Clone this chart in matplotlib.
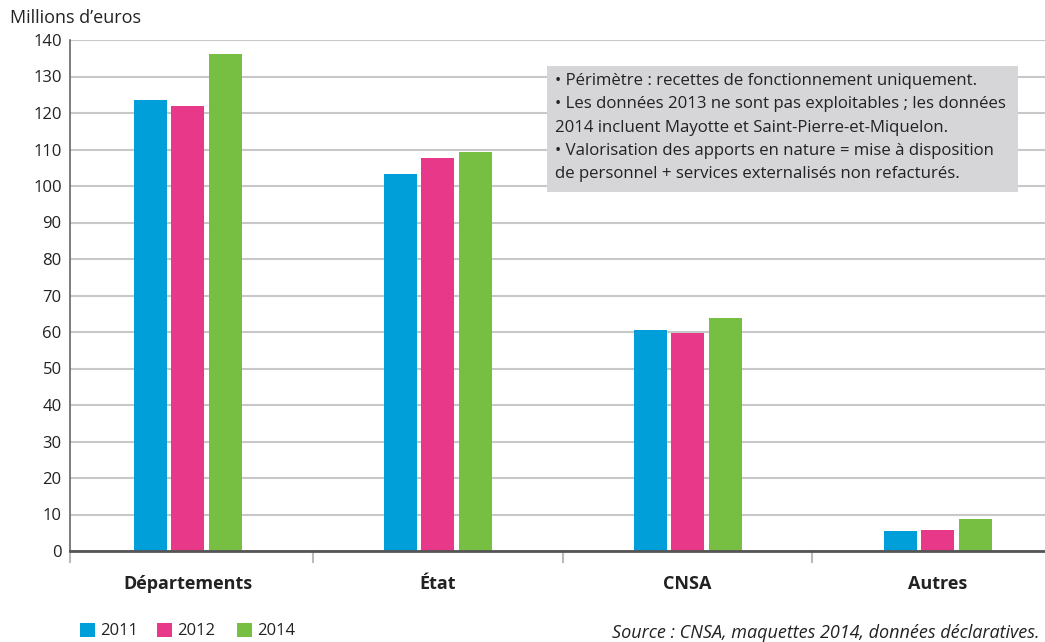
import matplotlib
matplotlib.use("Agg")
import matplotlib.pyplot as plt
from matplotlib.patches import Rectangle
import numpy as np

categories = ["Départements", "État", "CNSA", "Autres"]
years = ["2011", "2012", "2014"]
v2011 = [123.6, 103.3, 60.5, 5.5]
v2012 = [121.9, 107.7, 59.7, 5.8]
v2014 = [136.2, 109.3, 63.8, 8.8]
yticks = list(range(0, 141, 10))
colors = ["#009FDA", "#E8388A", "#76BF43"]
note_lines = [
    "\u2022 Périmètre : recettes de fonctionnement uniquement.",
    "\u2022 Les données 2013 ne sont pas exploitables ; les données",
    "2014 incluent Mayotte et Saint-Pierre-et-Miquelon.",
    "\u2022 Valorisation des apports en nature = mise à disposition",
    "de personnel + services externalisés non refacturés.",
]
source = "Source : CNSA, maquettes 2014, données déclaratives."

plt.rcParams['font.family'] = ['Open Sans', 'DejaVu Sans']

W, H = 1045, 642
fig = plt.figure(figsize=(W / 100, H / 100), dpi=100)
ax = fig.add_axes([70 / W, (H - 551) / H, (W - 70) / W, (551 - 40) / H])

x = np.arange(len(categories))
bw = 0.132
offs = [-0.15, 0.0, 0.152]
for vals, off, c, lab in zip([v2011, v2012, v2014], offs, colors, years):
    ax.bar(x + off, vals, width=bw, color=c, label=lab, zorder=3)

ax.set_xlim(-0.47, 3.43)
ax.set_ylim(0, 140)
ax.set_yticks(yticks)
ax.set_yticklabels([str(t) for t in yticks], fontsize=12, color="#222222")
ax.yaxis.grid(True, color="#c8c8c8", linewidth=1.5, zorder=0)
ax.set_axisbelow(True)
ax.tick_params(axis="y", length=0, pad=6)
ax.tick_params(axis="x", length=0)
ax.set_xticks([])
for s in ["top", "right"]:
    ax.spines[s].set_visible(False)
ax.spines["left"].set_color("#666666")
ax.spines["left"].set_linewidth(1.2)
ax.spines["bottom"].set_color("#555555")
ax.spines["bottom"].set_linewidth(2)
ax.spines["bottom"].set_zorder(4)

# category separator ticks
for xs in [-0.47, 0.5, 1.5, 2.5]:
    ax.plot([xs, xs], [0, -3], color="#bbbbbb", lw=1.5, clip_on=False)

for xi, cat in zip(x, categories):
    ax.text(xi, -9, cat, ha="center", va="center", fontsize=13, fontweight="bold",
            color="#222222", transform=ax.transData, clip_on=False)

fig.text(10 / W, 1 - 18 / H, "Millions d\u2019euros", fontsize=13, color="#222222", va="center")

# note box
fig.patches.append(Rectangle((547 / W, 1 - 192 / H), (1018 - 547) / W, (192 - 66) / H,
                             transform=fig.transFigure, facecolor="#d6d6d8", edgecolor="none", zorder=5))
for i, line in enumerate(note_lines):
    fig.text(555 / W, 1 - (81 + i * 23.3) / H, line, fontsize=12.1, color="#222222",
             va="center", ha="left", zorder=6)

# legend
lx = [80, 157, 237]
for xx, c, lab in zip(lx, colors, years):
    fig.patches.append(Rectangle((xx / W, 1 - 637 / H), 15 / W, 14 / H,
                                 transform=fig.transFigure, facecolor=c, edgecolor="none"))
    fig.text((xx + 20) / W, 1 - 631 / H, lab, fontsize=12, color="#222222", va="center")

fig.text(1040 / W, 0.5 / H, source, fontsize=13, style="italic", color="#222222",
         ha="right", va="bottom")

fig.savefig("out.png", dpi=100)
